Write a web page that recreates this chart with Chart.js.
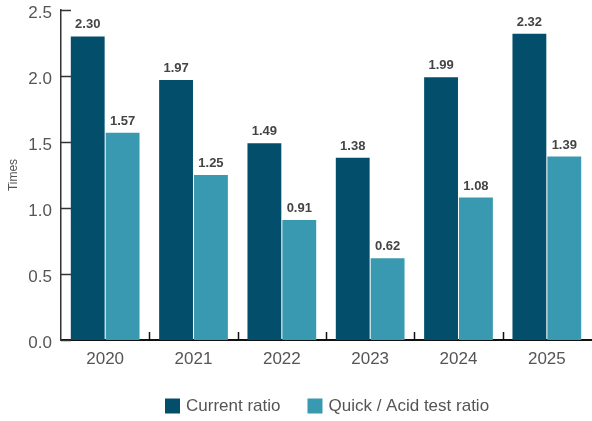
<!DOCTYPE html>
<html>
<head>
<meta charset="utf-8">
<script src="https://cdn.jsdelivr.net/npm/chart.js@4/dist/chart.umd.min.js"></script>
<style>
html,body{margin:0;padding:0;background:#fff;overflow:hidden;}
#wrap{position:relative;width:592px;height:421px;}
</style>
</head>
<body>
<div id="wrap"><canvas id="c"></canvas></div>
<script>
const years = ['2020', '2021', '2022', '2023', '2024', '2025'];
const currentRatio = [2.30, 1.97, 1.49, 1.38, 1.99, 2.32];
const quickRatio = [1.57, 1.25, 0.91, 0.62, 1.08, 1.39];
const seriesNames = ['Current ratio', 'Quick / Acid test ratio'];
const yTicks = [0, 0.5, 1.0, 1.5, 2.0, 2.5];
const yTitle = 'Times';

const DARK = '#034e6b';
const LIGHT = '#3899b0';
const FONT = "'Liberation Sans', Arial, Helvetica, sans-serif";

const extras = {
  id: 'extras',
  afterDatasetsDraw(chart) {
    const ctx = chart.ctx;
    const xs = chart.scales.x, ys = chart.scales.y;
    const area = chart.chartArea;
    ctx.save();
    ctx.strokeStyle = '#333';
    ctx.lineWidth = 1.5;
    yTicks.forEach(v => {
      const y = Math.round(ys.getPixelForValue(v)) + 0.5;
      ctx.beginPath();
      ctx.moveTo(area.left, y);
      ctx.lineTo(area.left + 10, y);
      ctx.stroke();
    });
    ctx.strokeStyle = '#111';
    ctx.lineWidth = 1.5;
    for (let i = 1; i < years.length; i++) {
      const x = Math.round((xs.getPixelForValue(i - 1) + xs.getPixelForValue(i)) / 2) + 0.5;
      ctx.beginPath();
      ctx.moveTo(x, area.bottom);
      ctx.lineTo(x, area.bottom - 8);
      ctx.stroke();
    }
    ctx.font = 'bold 13px ' + FONT;
    ctx.fillStyle = '#444';
    ctx.textAlign = 'center';
    ctx.textBaseline = 'bottom';
    chart.data.datasets.forEach((ds, di) => {
      const meta = chart.getDatasetMeta(di);
      meta.data.forEach((bar, i) => {
        ctx.fillText(ds.data[i].toFixed(2), bar.x, bar.y - 5);
      });
    });
    ctx.font = '17px ' + FONT;
    ctx.textAlign = 'left';
    ctx.textBaseline = 'middle';
    let lx = 165;
    const ly = 406;
    chart.data.datasets.forEach((ds) => {
      ctx.fillStyle = ds.backgroundColor;
      ctx.fillRect(lx, ly - 7.5, 15, 15);
      ctx.fillStyle = '#555';
      ctx.fillText(ds.label, lx + 21, ly);
      lx += 21 + ctx.measureText(ds.label).width + 27;
    });
    ctx.restore();
  }
};

new Chart(document.getElementById('c'), {
  type: 'bar',
  data: {
    labels: years,
    datasets: [
      { label: seriesNames[0], data: currentRatio, backgroundColor: DARK },
      { label: seriesNames[1], data: quickRatio, backgroundColor: LIGHT }
    ]
  },
  options: {
    responsive: true,
    maintainAspectRatio: false,
    animation: false,
    datasets: { bar: { categoryPercentage: 0.79, barPercentage: 0.97 } },
    layout: { padding: { top: 10, left: 0, right: 1, bottom: 41 } },
    plugins: { legend: { display: false }, tooltip: { enabled: false } },
    scales: {
      x: {
        grid: { display: false, drawTicks: false },
        border: { display: true, color: '#111', width: 2 },
        ticks: { color: '#555', font: { family: FONT, size: 17 }, padding: 9 },
        afterFit(s) { s.height = 40; s.paddingLeft = 0; s.paddingRight = 0; }
      },
      y: {
        min: 0, max: 2.5,
        afterBuildTicks(s) { s.ticks = yTicks.map(v => ({ value: v })); },
        grid: { display: false, drawTicks: false },
        border: { display: true, color: '#333', width: 1.5 },
        ticks: {
          color: '#555', font: { family: FONT, size: 17 }, padding: 9, labelOffset: 3,
          callback: v => Number(v).toFixed(1)
        },
        title: { display: true, text: yTitle, color: '#555', font: { family: FONT, size: 12 }, padding: { top: 6, bottom: 4 } },
        afterFit(s) { s.width = 61; s.paddingTop = 0; s.paddingBottom = 0; }
      }
    }
  },
  plugins: [extras]
});
</script>
</body>
</html>
